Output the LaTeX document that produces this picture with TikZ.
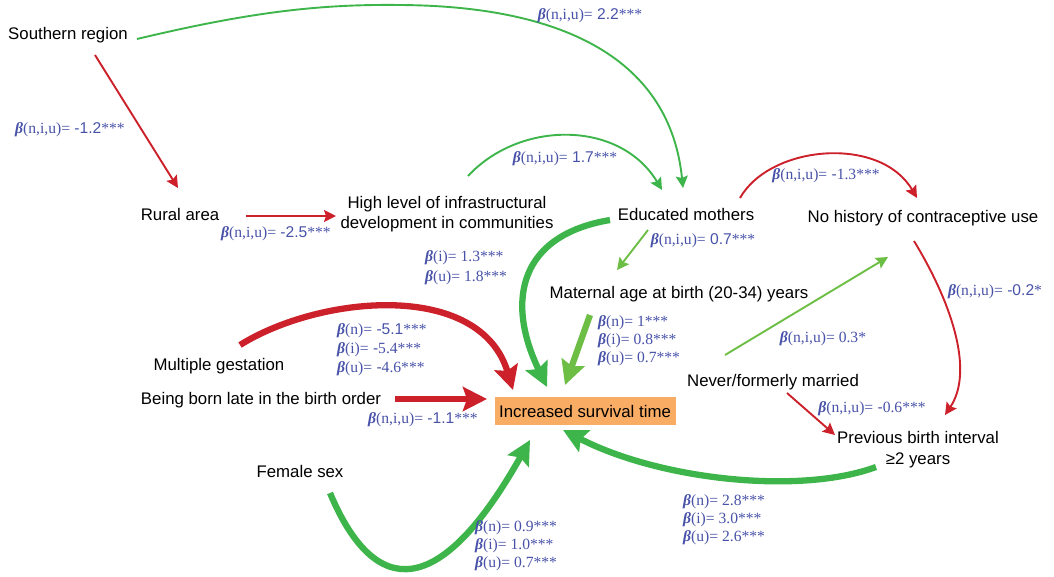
\documentclass[tikz,border=0pt]{standalone}
\usepackage{fontspec}
\setmainfont{Liberation Sans}
\newfontfamily\serifu{Liberation Serif}
\usetikzlibrary{arrows.meta,calc}
\definecolor{myred}{RGB}{204,32,42}
\definecolor{mygreen}{RGB}{62,181,74}
\definecolor{lgreen}{RGB}{108,190,68}
\definecolor{labblue}{RGB}{72,82,168}
\definecolor{boxorange}{RGB}{249,172,100}
\newcommand\bet{{\serifu\bfseries\itshape β}}
\newcommand\coefS[2]{\bet{\serifu(#1)=} #2{\serifu***}}
\newcommand\coefR[2]{\bet{\serifu(#1)= #2***}}
\tikzset{
  txt/.style={font=\fontsize{16.8}{20}\selectfont, inner sep=0pt, align=center, text=black},
  lab/.style={font=\fontsize{15.6}{18}\selectfont, text=labblue, inner sep=0pt, align=left},
  thinarrow/.style={line width=1.9pt, -{Stealth[length=12pt,width=12pt,inset=2pt]}},
  thickarrow/.style={line width=6.3pt, -{Stealth[length=24pt,width=24pt,inset=4pt]}},
}
\begin{document}
\begin{tikzpicture}[x=1pt,y=-1pt]
\useasboundingbox (0,0) rectangle (1054,576);
% nodes
\node[txt] (sr) at (68,35) {Southern region};
\node[txt] (ra) at (180,214) {Rural area};
\node[txt] (hl) at (447,214) {High level of infrastructural\\development in communities};
\node[txt] (em) at (686,214) {Educated mothers};
\node[txt] (nh) at (923,218) {No history of contraceptive use};
\node[txt] (ma) at (679,294) {Maternal age at birth (20-34) years};
\node[txt] (mg) at (219,366) {Multiple gestation};
\node[txt] (bl) at (261,400) {Being born late in the birth order};
\node[txt, fill=boxorange, minimum width=181pt, minimum height=28pt] (ist) at (585,411) {Increased survival time};
\node[txt] (nf) at (773,382) {Never/formerly married};
\node[txt] (pb) at (918,450) {Previous birth interval\\[1pt]≥2 years};
\node[txt] (fs) at (300,471) {Female sex};

% connectors
\draw[thinarrow, mygreen] ($(sr)+(69,4)$) .. controls (250,12) and (320,4) .. (400,5)
   .. controls (565,6) and (670,60) .. ($(em)+(-3,-26)$);
\draw[thinarrow, myred] ($(sr)+(27,20)$) -- ($(ra)+(-2,-26)$);
\draw[thinarrow, myred] ($(ra)+(66,2)$) -- ($(hl)+(-111,2)$);
\draw[thinarrow, mygreen] ($(hl)+(21,-38)$) .. controls (520,120) and (620,120) .. ($(em)+(-24,-24)$);
\draw[thinarrow, myred] ($(em)+(54,-16)$) .. controls (770,145) and (880,135) .. ($(nh)+(-6,-20)$);
\draw[thinarrow, myred] ($(nh)+(-9,23)$) .. controls (950,300) and (975,370) .. ($(pb)+(27,-35)$);
\draw[thinarrow, lgreen] ($(em)+(-38,16)$) -- ($(ma)+(-62,-24)$);
\draw[thickarrow, mygreen] ($(em)+(-76,6)$) .. controls (520,235) and (505,300) .. ($(ist)+(-38,-24)$);
\draw[thickarrow, lgreen] ($(ma)+(-89,21)$) -- ($(ist)+(-20,-26)$);
\draw[thickarrow, myred] ($(mg)+(21,-21)$) .. controls (320,295) and (480,280) .. ($(ist)+(-72,-21)$);
\draw[thickarrow, myred] ($(bl)+(134,-1)$) -- ($(ist)+(-98,-12)$);
\draw[thickarrow, mygreen] ($(fs)+(30,22)$) .. controls (375,600) and (440,600) .. ($(ist)+(-55,29)$);
\draw[thickarrow, mygreen] ($(pb)+(-42,17)$) .. controls (800,495) and (660,480) .. ($(ist)+(-22,19)$);
\draw[thinarrow, lgreen] ($(nf)+(-48,-27)$) -- ($(nh)+(-35,39)$);
\draw[thinarrow, myred] ($(nf)+(14,11)$) -- ($(pb)+(-83,-15)$);

% labels
\node[lab] (l1) at (590,16) {\coefS{n,i,u}{2.2}};
\node[lab] (l2) at (70,130) {\coefS{n,i,u}{-1.2}};
\node[lab] (l3) at (276,234) {\coefS{n,i,u}{-2.5}};
\node[lab] (l4) at (565,159) {\coefS{n,i,u}{1.7}};
\node[lab] (l5) at (826,176) {\bet{\serifu(n,i,u)=} -{\serifu1.3***}};
\node[lab] (l6) at (703,241) {\coefS{n,i,u}{0.7}};
\node[lab, anchor=west] (l7) at (425,268) {\coefR{i}{1.3}\\[2pt]\coefR{u}{1.8}};
\node[lab, anchor=west] (l8) at (598,341) {\coefR{n}{1}\\\coefR{i}{0.8}\\\coefR{u}{0.7}};
\node[lab, anchor=west] (l9) at (337,350) {\bet{\serifu(n)=} -5.1{\serifu***}\\[1pt]\bet{\serifu(i)=} -{\serifu5.4***}\\[1pt]\bet{\serifu(u)=} -{\serifu4.6***}};
\node[lab] (l10) at (423,420) {\coefS{n,i,u}{-1.1}};
\node[lab, anchor=west] (l11) at (475,546) {\coefR{n}{0.9}\\\coefR{i}{1.0}\\\coefR{u}{0.7}};
\node[lab, anchor=west] (l12) at (683,520) {\coefR{n}{2.8}\\\coefR{i}{3.0}\\\coefR{u}{2.6}};
\node[lab] (l13) at (823,339) {\bet{\serifu(n,i,u)= 0.3*}};
\node[lab] (l14) at (872,409) {\bet{\serifu(n,i,u)=} -{\serifu0.6***}};
\node[lab] (l15) at (995,292) {\bet{\serifu(n,i,u)=} -0.2{\serifu*}};
\end{tikzpicture}
\end{document}
